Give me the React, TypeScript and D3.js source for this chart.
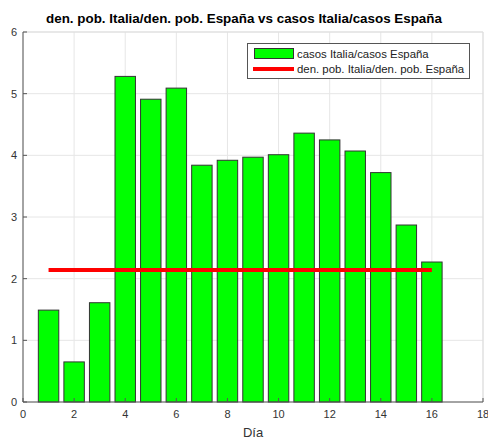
import * as d3 from "d3";

const days = [1, 2, 3, 4, 5, 6, 7, 8, 9, 10, 11, 12, 13, 14, 15, 16];
const ratioCases = [1.49, 0.65, 1.61, 5.28, 4.91, 5.09, 3.84, 3.92, 3.97, 4.01, 4.36, 4.25, 4.07, 3.72, 2.87, 2.27];
const ratioDensity = 2.14;
const xTicks = [0, 2, 4, 6, 8, 10, 12, 14, 16, 18];
const yTicks = [0, 1, 2, 3, 4, 5, 6];

const W = 488;
const H = 441;
const m = { left: 23, right: 5, top: 32, bottom: 39 };

export default function App() {
  const x = d3.scaleLinear().domain([0, 18]).range([m.left, W - m.right]);
  const y = d3.scaleLinear().domain([0, 6]).range([H - m.bottom, m.top]);
  const barW = x(0.8) - x(0);
  const font = "'Liberation Sans', Arial, Helvetica, sans-serif";

  return (
    <svg
      width={W}
      height={H}
      style={{ position: "absolute", left: 0, top: 0, background: "#fff" }}
      fontFamily={font}
    >
      {/* grid */}
      <g stroke="#e6e6e6" strokeWidth={1}>
        {xTicks.map((t) => (
          <line key={"gx" + t} x1={x(t)} x2={x(t)} y1={y(0)} y2={y(6)} />
        ))}
        {yTicks.map((t) => (
          <line key={"gy" + t} x1={x(0)} x2={x(18)} y1={y(t)} y2={y(t)} />
        ))}
      </g>

      {/* bars */}
      {days.map((d, i) => (
        <rect
          key={d}
          x={x(d) - barW / 2}
          y={y(ratioCases[i])}
          width={barW}
          height={y(0) - y(ratioCases[i])}
          fill="#00ff00"
          stroke="#333"
          strokeWidth={1}
        />
      ))}

      {/* density line */}
      <line
        x1={x(days[0])}
        x2={x(days[days.length - 1])}
        y1={y(ratioDensity)}
        y2={y(ratioDensity)}
        stroke="#ff0000"
        strokeWidth={4}
      />

      {/* axes */}
      <line x1={x(0)} x2={x(18)} y1={y(6)} y2={y(6)} stroke="#ddd" />
      <line x1={x(18)} x2={x(18)} y1={y(6)} y2={y(0)} stroke="#ddd" />
      <line x1={x(0)} x2={x(0)} y1={y(6)} y2={y(0)} stroke="#555" />
      <line x1={x(0)} x2={x(18)} y1={y(0)} y2={y(0)} stroke="#555" />
      {xTicks.map((t) => (
        <g key={"xt" + t}>
          <line x1={x(t)} x2={x(t)} y1={y(0)} y2={y(0) - 4} stroke="#555" />
          <text x={x(t)} y={y(0) + 16} textAnchor="middle" fontSize={11} fill="#333">
            {t}
          </text>
        </g>
      ))}
      {yTicks.map((t) => (
        <g key={"yt" + t}>
          <line x1={x(0)} x2={x(0) + 4} y1={y(t)} y2={y(t)} stroke="#555" />
          <text x={x(0) - 6} y={y(t) + 4} textAnchor="end" fontSize={11} fill="#333">
            {t}
          </text>
        </g>
      ))}

      <text x={(x(0) + x(18)) / 2} y={437} textAnchor="middle" fontSize={13} fill="#333">
        Día
      </text>
      <text x={244} y={23} textAnchor="middle" fontSize={13.4} fontWeight="bold" fill="#000">
        den. pob. Italia/den. pob. España vs casos Italia/casos España
      </text>

      {/* legend */}
      <g>
        <rect x={247.5} y={43.5} width={222} height={35} fill="#fff" stroke="#555" />
        <rect x={254.5} y={48.5} width={39} height={10} fill="#00ff00" stroke="#333" />
        <text x={297} y={57.5} fontSize={11.4} fill="#222">
          casos Italia/casos España
        </text>
        <line x1={253} x2={294} y1={69} y2={69} stroke="#ff0000" strokeWidth={4} />
        <text x={297} y={73} fontSize={11.4} fill="#222">
          den. pob. Italia/den. pob. España
        </text>
      </g>
    </svg>
  );
}
